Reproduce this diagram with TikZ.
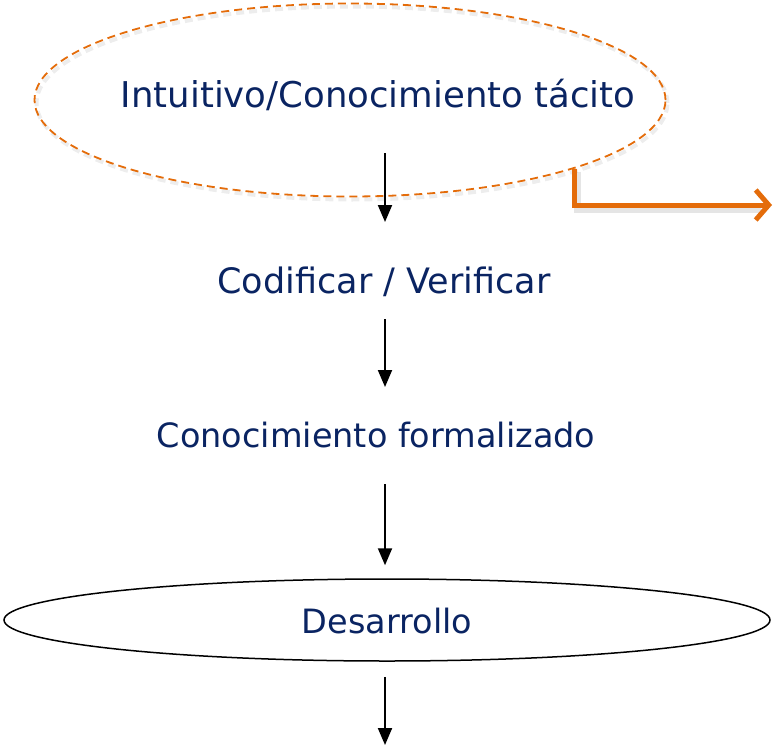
\documentclass[tikz,border=0pt]{standalone}
\usepackage{fontspec}
\setmainfont{DejaVu Sans}
\usetikzlibrary{shapes.geometric,arrows.meta}
\definecolor{navy}{RGB}{10,36,98}
\definecolor{orng}{RGB}{228,108,10}
\tikzset{
  lbl/.style={anchor=base,text=navy,font=\fontsize{33.5}{40}\selectfont,inner sep=0pt},
  darr/.style={draw=black,line width=2pt,-{Triangle[length=17pt,width=14pt]}},
  oarr/.style={draw=orng,line width=5pt,-{Straight Barb[length=13pt,width=30pt]}},
  oshadow/.style={draw=black,opacity=0.10,line width=7pt},
}
\begin{document}
\begin{tikzpicture}[x=1pt,y=1pt]
\useasboundingbox (0,0) rectangle (778,-749);
% top dashed ellipse (soft shadow + outline)
\node[ellipse,draw=black,opacity=0.07,line width=4pt,dash pattern=on 8pt off 5pt,minimum width=631pt,minimum height=193pt,inner sep=0pt] (e1s) at (352,-103) {};
\node[ellipse,draw=orng,line width=1.8pt,dash pattern=on 8pt off 5pt,minimum width=631pt,minimum height=193pt,inner sep=0pt] (e1) at (350,-100) {};
\node[lbl,font=\fontsize{35.5}{42}\selectfont] (t1) at (378,-108) {Intuitivo/Conocimiento tácito};
\node[lbl,font=\fontsize{35}{42}\selectfont] (t2) at (384,-293) {Codificar / Verificar};
\node[lbl] (t3) at (376,-447) {Conocimiento formalizado};
% bottom ellipse
\node[ellipse,draw=black,line width=1.5pt,minimum width=766pt,minimum height=82pt,inner sep=0pt] (e4) at (387,-620) {};
\node[lbl] (t4) at (387,-633) {Desarrollo};
\coordinate (cend) at (385,-745);
\coordinate (cor) at (772,-205);
\coordinate (cors) at (775,-209);
% black arrows
\draw[darr,shorten <=53pt,shorten >=71pt] (e1.center -| cend) -- (t2.base -| cend);
\draw[darr,shorten <=26pt,shorten >=60pt] (t2.base -| cend) -- (t3.base -| cend);
\draw[darr,shorten <=37pt,shorten >=13pt] (t3.base -| cend) -- (e4.north -| cend);
\draw[darr,shorten <=15pt] (e4.south -| cend) -- (cend);
% orange arrow with shadow
\draw[oshadow] ([xshift=3pt,yshift=-3pt]e1.-17.3) |- ([xshift=-14pt]cors);
\draw[oarr] (e1.-17.3) |- (cor);
\end{tikzpicture}
\end{document}
